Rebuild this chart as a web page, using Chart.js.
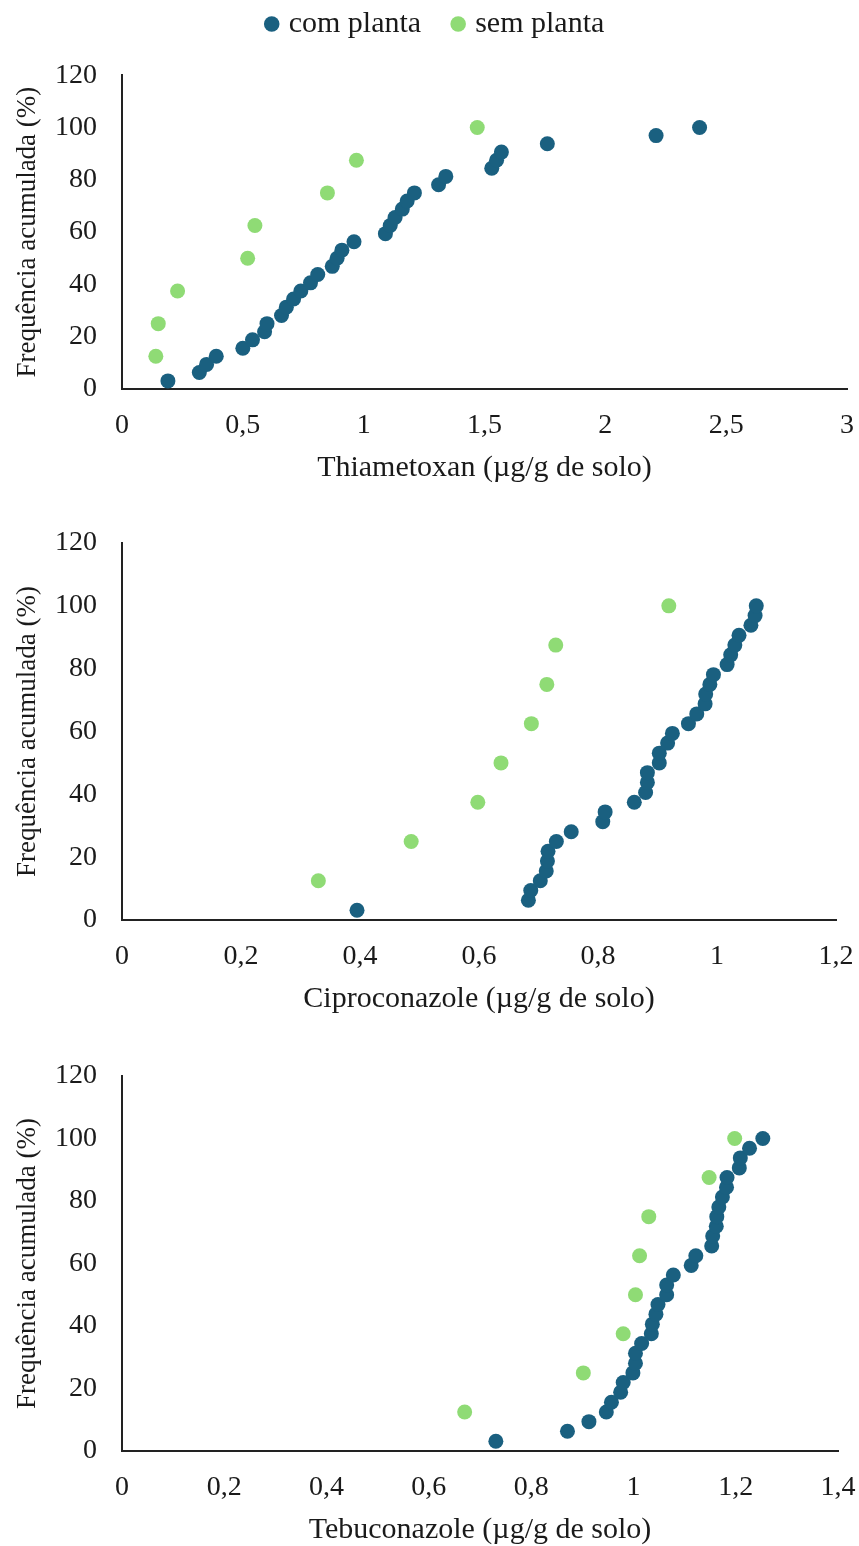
<!DOCTYPE html>
<html><head><meta charset="utf-8">
<script src="https://cdn.jsdelivr.net/npm/chart.js@4.4.1/dist/chart.umd.min.js"></script>
<style>
html,body{margin:0;padding:0;background:#fff;width:859px;height:1546px;overflow:hidden;}
canvas{position:absolute;left:0;}
</style></head><body>
<canvas id="c1" width="859" height="490" style="top:0px"></canvas>
<canvas id="c2" width="859" height="530" style="top:490px"></canvas>
<canvas id="c3" width="859" height="526" style="top:1020px"></canvas>
<script>
const seriesNames = ['com planta', 'sem planta'];
const seriesColors = ['#1a6080', '#8fdb75'];

// Frequência acumulada (%)
const comY = [3.1, 6.3, 9.4, 12.5, 15.6, 18.8, 21.9, 25, 28.1, 31.3, 34.4, 37.5, 40.6, 43.8, 46.9, 50,
              53.1, 56.3, 59.4, 62.5, 65.6, 68.8, 71.9, 75, 78.1, 81.3, 84.4, 87.5, 90.6, 93.8, 96.9, 100];
const semY = [12.5, 25, 37.5, 50, 62.5, 75, 87.5, 100];

// Thiametoxan (µg/g de solo)
const thiaCom = [0.19, 0.32, 0.35, 0.39, 0.50, 0.54, 0.59, 0.60, 0.66, 0.68, 0.71, 0.74, 0.78, 0.81, 0.87, 0.89,
                 0.91, 0.96, 1.09, 1.11, 1.13, 1.16, 1.18, 1.21, 1.31, 1.34, 1.53, 1.55, 1.57, 1.76, 2.21, 2.39];
const thiaSem = [0.14, 0.15, 0.23, 0.52, 0.55, 0.85, 0.97, 1.47];

// Ciproconazole (µg/g de solo)
const ciproCom = [0.395, 0.683, 0.687, 0.703, 0.713, 0.715, 0.716, 0.730, 0.755, 0.808, 0.812, 0.861, 0.880, 0.883, 0.883, 0.903,
                  0.903, 0.917, 0.925, 0.952, 0.966, 0.980, 0.981, 0.988, 0.994, 1.017, 1.023, 1.030, 1.037, 1.057, 1.064, 1.066];
const ciproSem = [0.330, 0.486, 0.598, 0.637, 0.688, 0.714, 0.729, 0.919];

// Tebuconazole (µg/g de solo)
const tebuCom = [0.731, 0.871, 0.913, 0.947, 0.957, 0.975, 0.980, 0.999, 1.004, 1.004, 1.016, 1.035, 1.037, 1.044, 1.048, 1.065,
                 1.065, 1.078, 1.113, 1.122, 1.153, 1.155, 1.162, 1.163, 1.167, 1.174, 1.182, 1.183, 1.207, 1.209, 1.227, 1.253];
const tebuSem = [0.670, 0.902, 0.980, 1.004, 1.012, 1.030, 1.148, 1.198];

const yTickLabels = ['0', '20', '40', '60', '80', '100', '120'];
const thiaTickLabels = ['0', '0,5', '1', '1,5', '2', '2,5', '3'];
const ciproTickLabels = ['0', '0,2', '0,4', '0,6', '0,8', '1', '1,2'];
const tebuTickLabels = ['0', '0,2', '0,4', '0,6', '0,8', '1', '1,2', '1,4'];

const yTitle = 'Frequência acumulada (%)';
const FONT = "'Liberation Serif', 'Times New Roman', serif";
const TXT = '#1a1a1a';

function makeChart(id, comX, semX, xLabels, xMax, xStep, xTitle, withLegend, pad) {
  const mk = (xs, ys) => xs.map((x, i) => ({x: x, y: ys[i]}));
  const yW = 122 - pad.left;
  const yTitleSize = 27;
  const yTitlePad = 28 - yTitleSize * 1.2 / 2 - pad.left;
  return new Chart(document.getElementById(id), {
    type: 'scatter',
    data: {
      datasets: [
        {label: seriesNames[0], data: mk(comX, comY), backgroundColor: seriesColors[0],
         borderColor: seriesColors[0], borderWidth: 0, pointRadius: 7.5, pointHoverRadius: 7.5},
        {label: seriesNames[1], data: mk(semX, semY), backgroundColor: seriesColors[1],
         borderColor: seriesColors[1], borderWidth: 0, pointRadius: 7.5, pointHoverRadius: 7.5}
      ]
    },
    options: {
      responsive: false, animation: false, devicePixelRatio: 1,
      layout: {padding: pad},
      plugins: {
        tooltip: {enabled: false},
        legend: withLegend ? {
          display: true, position: 'top', weight: 3000,
          labels: {usePointStyle: true, pointStyle: 'circle', boxWidth: 4, boxHeight: 11,
                   padding: 35, color: TXT, font: {family: FONT, size: 30}}
        } : {display: false},
        subtitle: withLegend ? {display: true, text: '', font: {size: 1}, padding: {top: 0, bottom: 25}} : {display: false}
      },
      scales: {
        x: {
          type: 'linear', min: 0, max: xMax,
          ticks: {stepSize: xStep, color: TXT, padding: 0, maxRotation: 0, autoSkip: false,
                  font: {family: FONT, size: 28},
                  callback: (v, i) => xLabels[i]},
          grid: {display: true, drawOnChartArea: false, drawTicks: true, tickLength: 20,
                 color: 'rgba(0,0,0,0)', tickColor: 'rgba(0,0,0,0)'},
          border: {display: true, color: '#222', width: 2},
          title: {display: true, text: xTitle, color: TXT, font: {family: FONT, size: 30}, padding: {top: 0, bottom: -2}},
          afterFit: (a) => { a.height = 95; }
        },
        y: {
          type: 'linear', min: 0, max: 120,
          ticks: {stepSize: 20, color: TXT, padding: 25, font: {family: FONT, size: 28},
                  callback: (v, i) => yTickLabels[i]},
          grid: {display: false, drawTicks: false},
          border: {display: true, color: '#222', width: 2},
          title: {display: true, text: yTitle, color: TXT, font: {family: FONT, size: yTitleSize},
                  padding: {top: yTitlePad, bottom: 0}},
          afterFit: (a) => { a.width = yW; }
        }
      }
    }
  });
}

makeChart('c1', thiaCom, thiaSem, thiaTickLabels, 3, 0.5, 'Thiametoxan (µg/g de solo)', true,
          {top: -26, left: 27, right: 12, bottom: 6});
makeChart('c2', ciproCom, ciproSem, ciproTickLabels, 1.2, 0.2, 'Ciproconazole (µg/g de solo)', false,
          {top: 53, left: 0, right: 23, bottom: 5});
makeChart('c3', tebuCom, tebuSem, tebuTickLabels, 1.4, 0.2, 'Tebuconazole (µg/g de solo)', false,
          {top: 56, left: 0, right: 21, bottom: 0});
</script>
</body></html>
